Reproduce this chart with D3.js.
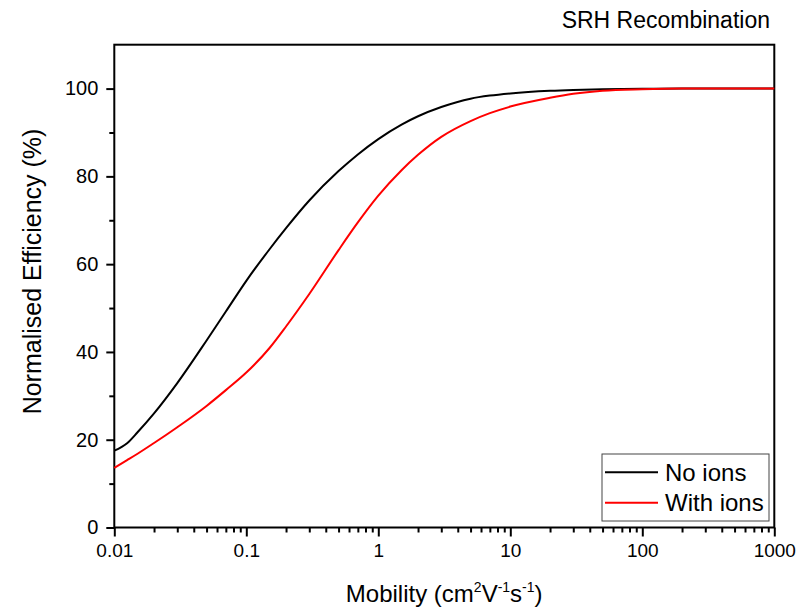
<!DOCTYPE html>
<html>
<head>
<meta charset="utf-8">
<script src="https://cdn.jsdelivr.net/npm/d3@7"></script>
<style>
  html, body { margin: 0; padding: 0; background: #fff; }
  svg { display: block; font-family: "Liberation Sans", Arial, sans-serif; }
</style>
</head>
<body>
<svg id="chart" width="811" height="610"></svg>
<script>
// Carrier mobility (cm^2 V^-1 s^-1)
const mobility = [0.01, 0.0125, 0.015, 0.02, 0.03, 0.05, 0.07, 0.1, 0.15, 0.2, 0.3, 0.5, 0.7,
                  1, 1.5, 2, 3, 5, 7, 10, 20, 30, 50, 100, 200, 500, 1000];
// Normalised efficiency (%) without mobile ions
const noIons = [17.5, 19.2, 21.7, 26.0, 32.9, 42.6, 49.2, 56.2, 63.4, 68.2, 74.5, 81.2, 85.0,
                88.5, 91.8, 93.7, 95.8, 97.7, 98.4, 98.9, 99.5, 99.7, 99.85, 99.95, 100, 100, 100];
// Normalised efficiency (%) with mobile ions
const withIons = [13.6, 15.35, 16.8, 19.25, 22.85, 27.7, 31.3, 35.3, 40.9, 45.8, 53.2, 63.2, 69.5,
                  75.6, 81.4, 84.9, 89.0, 92.6, 94.4, 95.9, 97.9, 98.8, 99.5, 99.85, 100, 100, 100];

const seriesNames = ["No ions", "With ions"];
const seriesColors = ["#000000", "#ff0000"];
const xTickValues = [0.01, 0.1, 1, 10, 100, 1000];
const xTickLabels = ["0.01", "0.1", "1", "10", "100", "1000"];
const yTickValues = [0, 20, 40, 60, 80, 100];
const yMinorValues = [10, 30, 50, 70, 90];

const svg = d3.select("#chart");
const plotLeft = 114.3, plotRight = 774.3, plotTop = 44.7, plotBottom = 527.5;

const x = d3.scaleLog().domain([0.01, 1000]).range([plotLeft, plotRight]);
const y = d3.scaleLinear().domain([0, 110]).range([plotBottom, plotTop]);

const font = "Liberation Sans, Arial, sans-serif";

// Minor x ticks (2..9 within each decade)
const xMinor = [];
for (let e = -2; e < 3; e++) {
  for (let m = 2; m <= 9; m++) xMinor.push(m * Math.pow(10, e));
}

// Bottom axis
const xAxis = svg.append("g").attr("transform", `translate(0,${plotBottom})`);
xAxis.call(d3.axisBottom(x).tickValues(xMinor).tickSize(5).tickFormat(""));
xAxis.append("g").call(d3.axisBottom(x).tickValues(xTickValues).tickSize(9)
  .tickFormat((d, i) => xTickLabels[i]).tickPadding(7));
xAxis.selectAll("path.domain").remove();
xAxis.selectAll("line").attr("stroke", "#000").attr("stroke-width", 2);
xAxis.selectAll("text").attr("font-size", 19).attr("font-family", font).attr("fill", "#000")
  .attr("dy", "0.71em");

// Left axis
const yAxis = svg.append("g").attr("transform", `translate(${plotLeft},0)`);
yAxis.call(d3.axisLeft(y).tickValues(yMinorValues).tickSize(5).tickFormat(""));
yAxis.append("g").call(d3.axisLeft(y).tickValues(yTickValues).tickSize(8).tickPadding(8));
yAxis.selectAll("path.domain").remove();
yAxis.selectAll("line").attr("stroke", "#000").attr("stroke-width", 2);
yAxis.selectAll("text").attr("font-size", 20).attr("font-family", font).attr("fill", "#000");

// Frame
svg.append("rect")
  .attr("x", plotLeft).attr("y", plotTop)
  .attr("width", plotRight - plotLeft).attr("height", plotBottom - plotTop)
  .attr("fill", "none").attr("stroke", "#000").attr("stroke-width", 2);

// Curves
const line = d3.line()
  .x(d => x(d[0]))
  .y(d => y(d[1]))
  .curve(d3.curveMonotoneX);

[noIons, withIons].forEach((vals, k) => {
  svg.append("path")
    .datum(mobility.map((m, i) => [m, vals[i]]))
    .attr("fill", "none")
    .attr("stroke", seriesColors[k])
    .attr("stroke-width", 2)
    .attr("stroke-linejoin", "round")
    .attr("d", line);
});

// Legend
const legend = svg.append("g");
legend.append("rect")
  .attr("x", 602).attr("y", 454).attr("width", 167).attr("height", 67)
  .attr("fill", "#fff").attr("stroke", "#444").attr("stroke-width", 1);
seriesNames.forEach((name, i) => {
  const cy = 472.3 + i * 30.5;
  legend.append("line")
    .attr("x1", 605).attr("x2", 658).attr("y1", cy).attr("y2", cy)
    .attr("stroke", seriesColors[i]).attr("stroke-width", 2);
  legend.append("text")
    .attr("x", 665).attr("y", cy + 8.5)
    .attr("font-size", 24).attr("font-family", font).attr("fill", "#000")
    .text(name);
});

// Title
svg.append("text")
  .attr("x", 770).attr("y", 27.5)
  .attr("text-anchor", "end")
  .attr("font-size", 23).attr("font-family", font).attr("fill", "#000")
  .text("SRH Recombination");

// Y axis title
svg.append("text")
  .attr("transform", "translate(40.5,271.5) rotate(-90)")
  .attr("text-anchor", "middle")
  .attr("font-size", 25).attr("font-family", font).attr("fill", "#000")
  .text("Normalised Efficiency (%)");

// X axis title with superscripts
const xt = svg.append("text")
  .attr("x", 444.2).attr("y", 602)
  .attr("text-anchor", "middle")
  .attr("font-size", 24).attr("font-family", font).attr("fill", "#000");
xt.append("tspan").text("Mobility (cm");
xt.append("tspan").attr("font-size", 14).attr("dy", -10).text("2");
xt.append("tspan").attr("dy", 10).text("V");
xt.append("tspan").attr("font-size", 14).attr("dy", -10).text("-1");
xt.append("tspan").attr("dy", 10).text("s");
xt.append("tspan").attr("font-size", 14).attr("dy", -10).text("-1");
xt.append("tspan").attr("dy", 10).text(")");
</script>
</body>
</html>
